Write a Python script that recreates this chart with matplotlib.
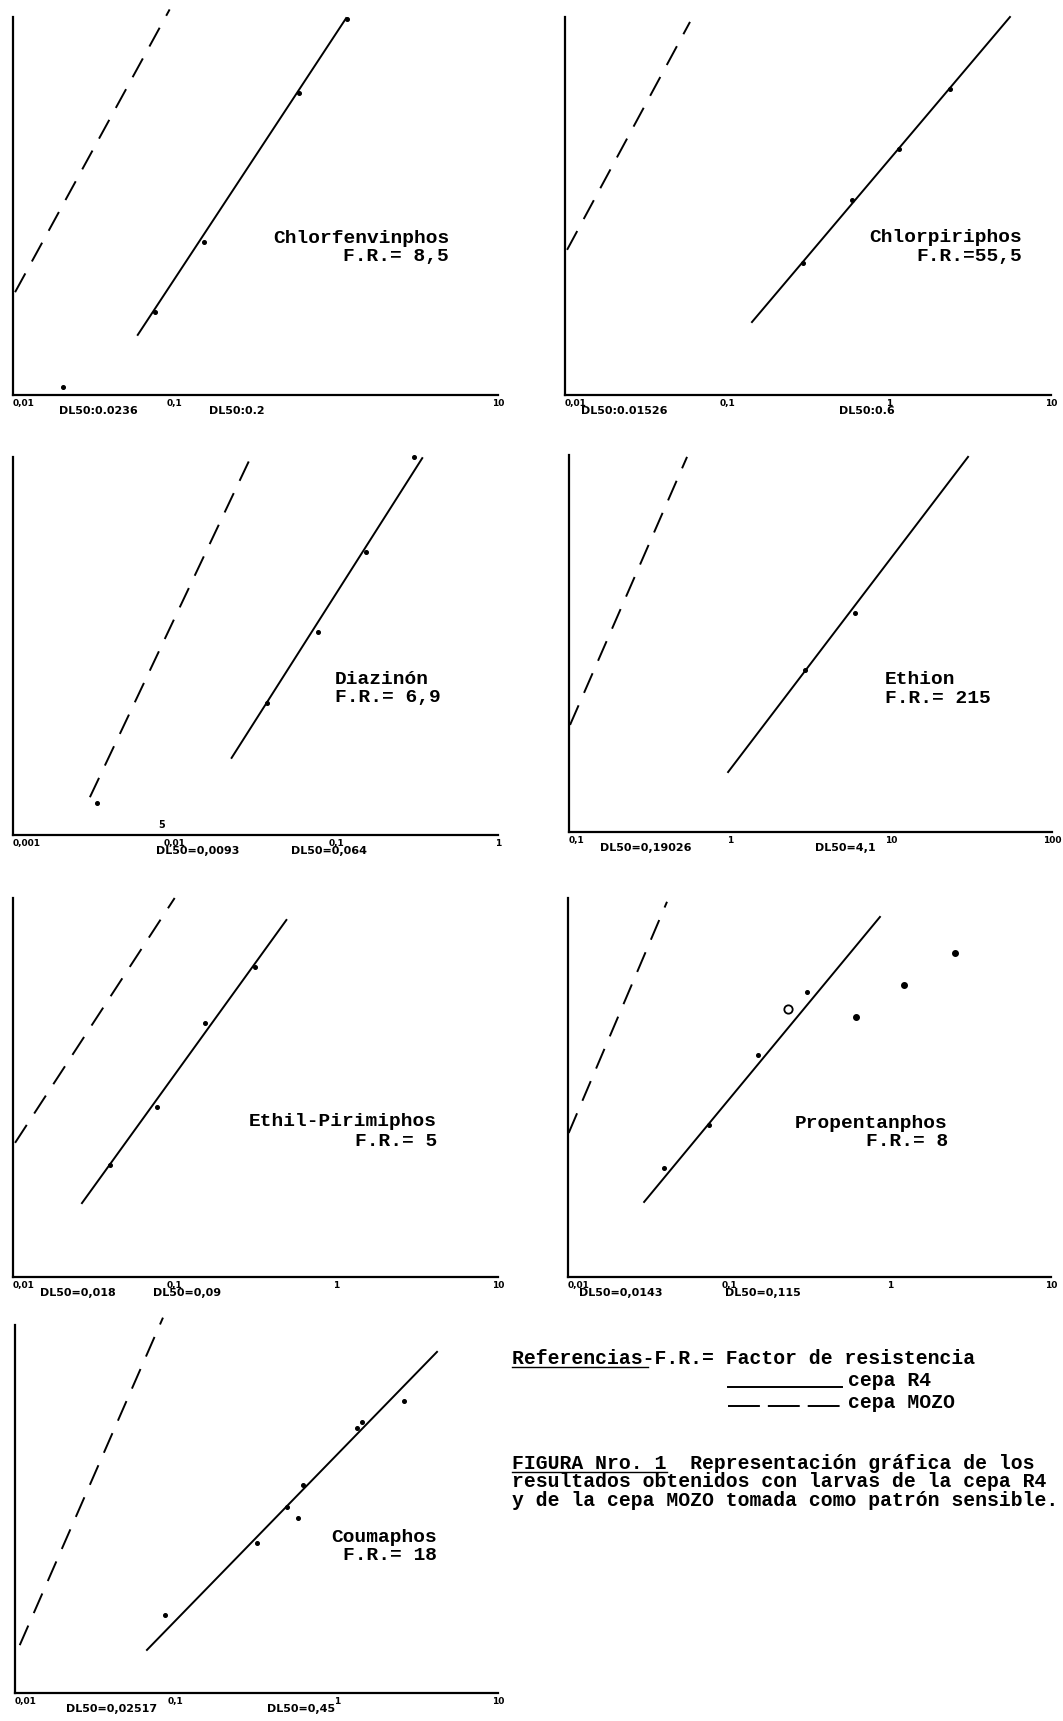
import matplotlib
matplotlib.use("Agg")
import matplotlib.pyplot as plt
from matplotlib.lines import Line2D

W, H = 1063, 1721

# --- data (y = probit-like scale 0..10) ---
names = ["Chlorfenvinphos", "Chlorpiriphos", "Diazinón", "Ethion",
         "Ethil-Pirimiphos", "Propentanphos", "Coumaphos"]
fr_labels = ["F.R.= 8,5", "F.R.=55,5", "F.R.= 6,9", "F.R.= 215",
             "F.R.= 5", "F.R.= 8", "F.R.= 18"]

x_ranges = [(0.01, 10), (0.01, 10), (0.001, 1), (0.1, 100),
            (0.01, 10), (0.01, 10), (0.01, 10)]
tick_values = [[0.01, 0.1, 10], [0.01, 0.1, 1, 10], [0.001, 0.01, 0.1, 1],
               [0.1, 1, 10, 100], [0.01, 0.1, 1, 10], [0.01, 0.1, 1, 10],
               [0.01, 0.1, 1, 10]]
tick_labels = [["0,01", "0,1", "10"], ["0,01", "0,1", "1", "10"],
               ["0,001", "0,01", "0,1", "1"], ["0,1", "1", "10", "100"],
               ["0,01", "0,1", "1", "10"], ["0,01", "0,1", "1", "10"],
               ["0,01", "0,1", "1", "10"]]

dl50_mozo = [0.0236, 0.01526, 0.0093, 0.19026, 0.018, 0.0143, 0.02517]
dl50_r4 = [0.2, 0.6, 0.064, 4.1, 0.09, 0.115, 0.45]
dl50_mozo_txt = ["DL50:0.0236", "DL50:0.01526", "DL50=0,0093", "DL50=0,19026",
                 "DL50=0,018", "DL50=0,0143", "DL50=0,02517"]
dl50_r4_txt = ["DL50:0.2", "DL50:0.6", "DL50=0,064", "DL50=4,1",
               "DL50=0,09", "DL50=0,115", "DL50=0,45"]

# regression lines (end points)
mozo_x = [(0.0103, 0.0931), (0.0103, 0.0591), (0.00299, 0.029), (0.1015, 0.541),
          (0.0103, 0.1), (0.0101, 0.0412), (0.0107, 0.083)]
mozo_y = [(2.72, 10.2), (3.84, 9.87), (1.0, 9.92), (2.84, 9.95),
          (3.54, 10.0), (3.8, 9.9), (1.3, 10.2)]
r4_x = [(0.0591, 1.15), (0.1426, 5.58), (0.0225, 0.34), (0.973, 30.1),
        (0.0267, 0.491), (0.0297, 0.866), (0.066, 4.18)]
r4_y = [(1.59, 9.97), (1.93, 10.0), (2.04, 9.97), (1.59, 9.95),
        (1.95, 9.42), (1.98, 9.5), (1.17, 9.27)]

# observed points, strain R4
pts_x = [[0.0203, 0.0753, 0.151, 0.59, 1.17],
         [0.294, 0.591, 1.153, 2.38],
         [0.0033, 0.0375, 0.0774, 0.153, 0.303],
         [2.92, 5.97],
         [0.0397, 0.0774, 0.153, 0.312],
         [0.0395, 0.0751, 0.151, 0.305],
         [0.0855, 0.318, 0.489, 0.57, 0.615, 1.33, 1.42, 2.61]]
pts_y = [[0.2, 2.2, 4.05, 8.0, 9.95],
         [3.49, 5.16, 6.5, 8.1],
         [0.85, 3.49, 5.37, 7.49, 10.0],
         [4.3, 5.8],
         [2.96, 4.49, 6.7, 8.18],
         [2.88, 4.0, 5.86, 7.52],
         [2.12, 4.08, 5.05, 4.75, 5.65, 7.2, 7.36, 7.93]]

# Propentanphos: open circle and points off the line
prop_open_x = [0.232]
prop_open_y = [7.07]
prop_out_x = [0.615, 1.22, 2.53]
prop_out_y = [6.86, 7.7, 8.55]

# --- layout (pixel boxes: left, top, right, bottom) ---
boxes = [(13, 17, 498, 395), (565, 17, 1051, 395),
         (13, 457, 498, 835), (569, 455, 1052, 832),
         (13, 898, 498, 1277), (568, 898, 1051, 1277),
         (15, 1325, 498, 1693)]
# x, y of first line, y of second line, alignment
label_pos = [(449, 239, 256, "right"), (1022, 238, 256, "right"),
             (335, 680, 698, "left"), (885, 680, 699, "left"),
             (437, 1122, 1141, "right"), (948, 1123, 1142, "right"),
             (437, 1537, 1556, "right")]

mono = "Liberation Mono"


def fx(px):
    return px / W


def fy(py):
    return 1 - py / H


fig = plt.figure(figsize=(W / 100, H / 100), dpi=100)

for i in range(7):
    l, t, r, b = boxes[i]
    ax = fig.add_axes([fx(l), fy(b), (r - l) / W, (b - t) / H])
    ax.set_xscale("log")
    ax.set_xlim(*x_ranges[i])
    ax.set_ylim(0, 10)
    for s in ["top", "right"]:
        ax.spines[s].set_visible(False)
    for s in ["left", "bottom"]:
        ax.spines[s].set_linewidth(1.6)
    ax.set_yticks([])
    ax.minorticks_off()
    ax.set_xticks(tick_values[i])
    ax.set_xticklabels(tick_labels[i], fontsize=6.5, fontweight="bold")
    ax.get_xticklabels()[0].set_ha("left")
    ax.tick_params(axis="x", length=0, pad=3)
    ax.patch.set_visible(False)

    ax.plot(mozo_x[i], mozo_y[i], color="black", lw=1.4,
            linestyle=(0, (11, 7)), clip_on=False)
    ax.plot(r4_x[i], r4_y[i], color="black", lw=1.4, clip_on=False)
    ax.plot(pts_x[i], pts_y[i], "o", color="black", ms=2.6, clip_on=False)

    if names[i] == "Propentanphos":
        ax.plot(prop_open_x, prop_open_y, "o", ms=6, mfc="white",
                mec="black", mew=1.3)
        ax.plot(prop_out_x, prop_out_y, "o", color="black", ms=4)

    for val, txt in [(dl50_mozo[i], dl50_mozo_txt[i]), (dl50_r4[i], dl50_r4_txt[i])]:
        ax.annotate(txt, xy=(val, 0), xycoords=("data", "axes fraction"),
                    xytext=(-10, -8), textcoords="offset points",
                    ha="left", va="top", fontsize=8, fontweight="bold")

    px, py1, py2, ha = label_pos[i]
    fig.text(fx(px), fy(py1), names[i], ha=ha, va="center",
             family=mono, fontsize=14, fontweight="bold")
    fig.text(fx(px), fy(py2), fr_labels[i], ha=ha, va="center",
             family=mono, fontsize=14, fontweight="bold")

fig.text(fx(162), fy(825), "5", fontsize=7, fontweight="bold", ha="center", va="center")

# --- references / caption block ---
cap_kw = dict(family=mono, fontsize=14.2, fontweight="bold", va="baseline", ha="left")
fig.text(fx(512), fy(1364), "Referencias-F.R.= Factor de resistencia", **cap_kw)
fig.add_artist(Line2D([fx(512), fx(648)], [fy(1367), fy(1367)], color="black", lw=1))
fig.add_artist(Line2D([fx(728), fx(842)], [fy(1387), fy(1387)], color="black", lw=1.4))
fig.text(fx(848), fy(1386), "cepa R4", **cap_kw)
fig.add_artist(Line2D([fx(728), fx(842)], [fy(1406), fy(1406)], color="black", lw=1.4,
                      linestyle=(0, (16.4, 4.1))))
fig.text(fx(848), fy(1408), "cepa MOZO", **cap_kw)

fig.text(fx(512), fy(1469), "FIGURA Nro. 1  Representación gráfica de los", **cap_kw)
fig.add_artist(Line2D([fx(512), fx(667)], [fy(1472), fy(1472)], color="black", lw=1))
fig.text(fx(512), fy(1487), "resultados obtenidos con larvas de la cepa R4", **cap_kw)
fig.text(fx(512), fy(1506), "y de la cepa MOZO tomada como patrón sensible.", **cap_kw)

fig.savefig("out.png", dpi=100, facecolor="white")
